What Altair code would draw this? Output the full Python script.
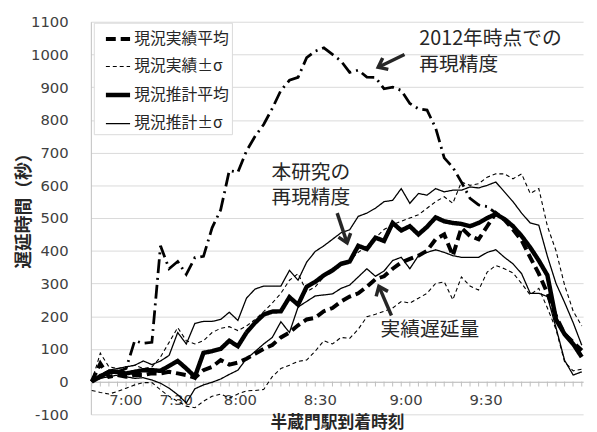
import altair as alt
import pandas as pd

# ---------------- data ----------------
idx = list(range(58))  # train (category) index along the x axis
tick_pos = [3.92, 9.77, 17.23, 26.52, 36.5, 45.8]
tick_lab = ["7:00", "7:30", "8:00", "8:30", "9:00", "9:30"]

series_names = ["現況実績平均", "現況実績±σ", "現況推計平均", "現況推計±σ"]

jisseki_mean = [0, 55, 15, 20, 15, 20, 20, 25, 25, 30, 25, 20, 12, 35, 45, 66, 52, 58, 70, 85,
                100, 112, 135, 150, 172, 190, 195, 215, 225, 245, 260, 270, 290, 313, 322, 345, 364, 375, 385, 400,
                435, 450, 385, 470, 445, 435, 475, 515, 495, 465, 432, 380, 330, 270, 200, 145, 120, 95]
jisseki_up = [0, 87, 45, 40, 45, 50, 40, 45, 75, 120, 165, 125, 115, 125, 150, 163, 168, 156, 170, 190,
              214, 240, 270, 310, 330, 275, 290, 320, 345, 355, 370, 395, 415, 440, 465, 480, 490, 500, 510, 530,
              550, 565, 545, 610, 600, 605, 625, 635, 635, 620, 635, 575, 590, 475, 400, 295, 215, 170]
jisseki_lo = [-27, -33, -38, -30, -20, -10, -3, -3, -25, -45, -60, -75, -80, -60, -45, -38, -50, -38, -28, -27,
              -24, 15, 40, 50, 62, 66, 93, 125, 115, 135, 132, 160, 198, 206, 215, 225, 245, 240, 255, 270,
              300, 305, 250, 320, 292, 280, 335, 355, 345, 332, 300, 265, 285, 225, 160, 60, 33, 38]
suikei_mean = [0, 15, 30, 30, 25, 30, 35, 35, 33, 48, 63, 40, 15, 88, 93, 100, 125, 108, 150, 180,
               205, 214, 215, 258, 235, 290, 305, 325, 340, 360, 367, 415, 405, 440, 430, 485, 462, 475, 450, 473,
               502, 490, 485, 482, 475, 485, 500, 512, 497, 475, 445, 410, 370, 325, 190, 145, 115, 75]
suikei_up = [0, 20, 35, 40, 45, 50, 63, 52, 63, 80, 150, 115, 178, 184, 184, 190, 212, 187, 255, 283,
             292, 292, 292, 340, 310, 365, 398, 415, 435, 455, 464, 505, 515, 530, 550, 554, 590, 545, 575, 570,
             590, 580, 585, 585, 595, 592, 600, 610, 580, 550, 515, 485, 478, 383, 300, 242, 180, 111]
suikei_lo = [0, 10, 15, 20, 15, 10, 12, 5, -5, -20, -40, -65, -22, -10, -2, 8, 22, 35, 70, 92,
             115, 135, 183, 150, 228, 245, 262, 265, 268, 285, 295, 320, 345, 322, 338, 370, 380, 345, 385, 395,
             403, 395, 385, 380, 380, 380, 395, 403, 380, 360, 330, 270, 270, 260, 165, 65, 20, 30]
model2012 = [0, 20, 25, 30, 40, 125, 117, 120, 415, 345, 367, 328, 379, 383, 470, 525, 645, 640, 705, 750,
             786, 835, 890, 921, 930, 990, 1010, 1020, 1000, 980, 945, 952, 931, 930, 895, 900, 890, 850, 834, 830,
             775, 684, 655, 610, 560, 540, 535, 515]

ann_text = ["2012年時点での", "再現精度", "本研究の", "再現精度", "実績遅延量"]
ann_x = [38.1, 38.1, 20.9, 20.9, 33.6]
ann_y = [1047, 969, 638, 562, 156]

arrow_x1 = [36.38, 28.55, 34.86]
arrow_y1 = [1000, 515, 202]
arrow_x2 = [33.32, 29.70, 33.40]
arrow_y2 = [961, 424, 291]
arrow_ang = [244, 162, 337]

# ---------------- tables ----------------
lines = [
    ("a_jl", series_names[1], jisseki_lo),
    ("b_ju", series_names[1], jisseki_up),
    ("c_sl", series_names[3], suikei_lo),
    ("d_su", series_names[3], suikei_up),
    ("e_jm", series_names[0], jisseki_mean),
    ("f_sm", series_names[2], suikei_mean),
]
rows = []
for lid, name, vals in lines:
    for i, v in zip(idx, vals):
        rows.append({"i": i, "v": v, "s": name, "line": lid})
df = pd.DataFrame(rows)
df2012 = pd.DataFrame({"i": idx[:len(model2012)], "v": model2012})
df_ticks = pd.DataFrame({"i": idx, "v": [0] * len(idx), "v2": [-15] * len(idx)})
df_ann = pd.DataFrame({"t": ann_text, "i": ann_x, "v": ann_y})
df_arr = pd.DataFrame({"i": arrow_x1, "v": arrow_y1, "i2": arrow_x2, "v2": arrow_y2, "ang": arrow_ang})

CJK = "Noto Sans CJK JP"
TXT = "#262626"

xscale = alt.Scale(domain=[-0.1, 57.15], nice=False, zero=False)
yscale = alt.Scale(domain=[-100, 1100], nice=False, zero=False)

label_expr = "[" + ",".join("'%s'" % t for t in tick_lab) + "][indexof([" + \
    ",".join(str(p) for p in tick_pos) + "], datum.value)]"

x_axis = alt.Axis(values=tick_pos, labelExpr=label_expr, offset=-33, ticks=False, tickSize=0,
                  domainColor="#bfbfbf", grid=False, labelFont="DejaVu Sans", labelFontSize=15,
                  labelColor="#404040", labelPadding=11, title="半蔵門駅到着時刻", titleFont=CJK,
                  titleFontSize=17, titleFontWeight="bold", titleColor=TXT, titleY=33,
                  titleBaseline="top", labelOverlap=False)
y_axis = alt.Axis(values=list(range(-100, 1101, 100)), labelExpr="'' + datum.value", grid=True,
                  gridColor="#d9d9d9", domainColor="#bfbfbf", ticks=False, tickSize=0,
                  labelFont="DejaVu Sans", labelFontSize=15, labelColor="#404040", labelPadding=23,
                  title="遅延時間（秒）", titleFont=CJK, titleFontSize=18, titleFontWeight="bold",
                  titleColor=TXT, titleX=-67, titleY=187, titleAlign="center",
                  titleBaseline="middle", titleAngle=270)

X = alt.X("i:Q", scale=xscale, axis=x_axis)
Y = alt.Y("v:Q", scale=yscale, axis=y_axis)

legend = alt.Legend(orient="none", legendX=3, legendY=1, title=None, fillColor="white",
                    strokeColor="#d9d9d9", padding=2, labelFont=CJK, labelFontSize=16,
                    labelColor=TXT, symbolType="stroke", symbolSize=600, rowPadding=6.4,
                    symbolOffset=8, labelOffset=2, symbolStrokeColor="black")

ticks = alt.Chart(df_ticks).mark_rule(color="#bfbfbf", strokeWidth=1).encode(x=X, y=Y, y2="v2:Q")

l2012 = alt.Chart(df2012).mark_line(color="black", strokeWidth=2.8, strokeDash=[14, 5, 2, 5]).encode(
    x=X, y=Y)

main = alt.Chart(df).mark_line(color="black").encode(
    x=X, y=Y,
    detail="line:N",
    strokeDash=alt.StrokeDash("s:N", scale=alt.Scale(domain=series_names,
                              range=[[10, 5], [4, 3], [1, 0], [1, 0]]), legend=legend),
    strokeWidth=alt.StrokeWidth("s:N", scale=alt.Scale(type="ordinal", domain=series_names,
                                range=[4, 1.1, 4.5, 1.3]), legend=None),
)

arrows = alt.Chart(df_arr).mark_rule(color=TXT, strokeWidth=3.5).encode(
    x=X, y=Y, x2="i2:Q", y2="v2:Q")
heads = alt.Chart(df_arr).mark_point(shape="M-0.75,0.95L0,0L0.75,0.95", filled=False, strokeWidth=3.5,
                                      size=300, color=TXT, opacity=1).encode(
    x=alt.X("i2:Q", scale=xscale, axis=x_axis), y=alt.Y("v2:Q", scale=yscale, axis=y_axis),
    angle=alt.Angle("ang:Q", scale=None),
)
texts = alt.Chart(df_ann).mark_text(align="left", baseline="middle", font=CJK, fontSize=20,
                                     color=TXT).encode(x=X, y=Y, text="t:N")

chart = alt.layer(ticks, l2012, main, arrows, heads, texts).properties(
    width=499, height=398,
    autosize=alt.AutoSizeParams(type="none"),
    padding={"left": 84, "top": 11, "right": 6, "bottom": 16},
    background="white",
).configure_view(strokeWidth=0)

chart.save("out.html", embed_options={"renderer": "svg", "actions": False})
